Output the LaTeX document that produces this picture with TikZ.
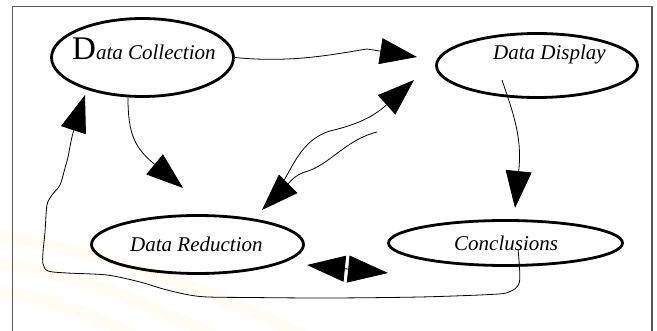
\documentclass[tikz,border=0pt]{standalone}
\usepackage{fontspec}
\setmainfont{Liberation Serif}
\usetikzlibrary{shapes.geometric, arrows.meta}
\definecolor{cream}{RGB}{254,252,243}

\begin{document}
\begin{tikzpicture}[x=1pt, y=-1pt,
    blob/.style={ellipse, draw, line width=2.8pt, inner sep=0pt},
    txt/.style={inner sep=0pt, anchor=base west, font=\fontsize{21}{24}\selectfont\itshape},
    link/.style={line width=0.8pt, -{Triangle[length=37pt,width=26pt]}},
    frame/.style={draw=black!65, line width=1.2pt},
    swoosh/.style={line width=12pt, draw=cream, line cap=round}]
  \useasboundingbox (0,0) rectangle (657,331);
  \begin{scope}
    \clip (0,0) rectangle (657,331);
    \draw[swoosh] (-10,235) .. controls (80,245) and (220,290) .. (320,345);
    \draw[swoosh] (-10,262) .. controls (60,270) and (150,300) .. (230,345);
    \draw[swoosh] (-10,290) .. controls (40,295) and (100,315) .. (150,345);
  \end{scope}
  \draw[frame] (12.5,331) |- (652,6.5) -- (652,331);

  % the four stages
  \node[blob, minimum width=182pt, minimum height=78pt] (dc) at (142.5,57.5) {};
  \node[blob, minimum width=201pt, minimum height=64pt] (dd) at (537,65.5) {};
  \node[blob, minimum width=212pt, minimum height=58pt] (dr) at (197.5,244.5) {};
  \node[blob, minimum width=234pt, minimum height=45pt] (co) at (505.5,243) {};
  \node[txt] (dctext) at (72,60) {{\fontsize{33}{36}\selectfont\upshape D}ata Collection};
  \node[txt] (ddtext) at (493,60) {Data Display};
  \node[txt] (drtext) at (130,252) {Data Reduction};
  \node[txt] (cotext) at (454,251) {Conclusions};

  % free ends of the connectors
  \coordinate (ddin) at (417,57);
  \coordinate (drin) at (183,188);
  \coordinate (ddout) at (502,80);
  \coordinate (coin) at (515,208);
  \coordinate (drout) at (278,190);
  \coordinate (ddin2) at (414,80);
  \coordinate (ddout2) at (377,132);
  \coordinate (drin2) at (262,210);
  \coordinate (drside) at (307,265);
  \coordinate (coside) at (388,273);
  \coordinate (coout) at (518,249);
  \coordinate (dcin) at (85,95);

  \draw[link] (dc.east) .. controls (290,63) and (330,55) .. (367,49) -- (ddin);
  \draw[link] (dc.250) .. controls (128,135) and (135,148) .. (drin);
  \draw[link] (ddout) .. controls (512,110) and (522,135) .. (519,168) -- (coin);
  \draw[link] (drout) .. controls (292,170) and (300,140) .. (330,131)
    .. controls (355,125) and (372,118) .. (ddin2);
  \draw[link] (ddout2) .. controls (345,140) and (330,165) .. (305,172)
    .. controls (295,175) and (290,182) .. (drin2);
  \draw[line width=0.8pt, {Triangle[length=38pt,width=26pt]}-{Triangle[length=40pt,width=27pt]}]
    (drside) -- (coside);
  \draw[link] plot[smooth] coordinates {(coout) (519.5,282) (509,292) (490,294.5)
    (420,297) (330,298) (250,297.5) (200,296.5) (167,290) (140,282) (107,275)
    (67,273) (48,271) (43,264) (43,252) (45,232) (47,205) (52,195) (60,185)
    (65,168) (68,157) (73,133) (dcin)};
\end{tikzpicture}
\end{document}
